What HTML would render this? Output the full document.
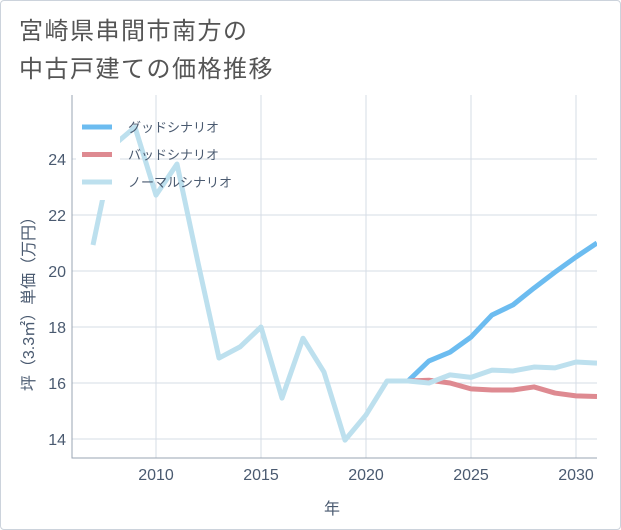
<!DOCTYPE html>
<html><head><meta charset="utf-8"><style>
body{margin:0;background:#fff;font-family:"Liberation Sans","Noto Sans CJK JP",sans-serif;}
#wrap{position:relative;width:619px;height:528px;border:1px solid #ccd3dc;border-radius:4px;overflow:hidden}
.t{position:absolute;left:18px;font-size:24px;color:#555;letter-spacing:1.5px;line-height:30px}
</style></head><body>
<div id="wrap">
<div class="t" style="top:16px">宮崎県串間市南方の</div>
<div class="t" style="top:54px">中古戸建ての価格推移</div>
<svg id="c" width="621" height="530" style="position:absolute;left:-1px;top:-1px"></svg>
</div>
<script>
const years=[2007,2008,2009,2010,2011,2012,2013,2014,2015,2016,2017,2018,2019,2020,2021,2022,2023,2024,2025,2026,2027,2028,2029,2030,2031];
const normal=[20.93,24.5,25.14,22.71,23.82,20.3,16.89,17.29,18.0,15.46,17.6,16.39,13.96,14.86,16.07,16.07,16.0,16.29,16.2,16.46,16.43,16.57,16.54,16.75,16.71];
const goodYears=[2022,2023,2024,2025,2026,2027,2028,2029,2030,2031];
const good=[16.07,16.79,17.1,17.64,18.43,18.79,19.39,19.96,20.5,21.0];
const bad=[16.07,16.1,16.0,15.79,15.75,15.75,15.86,15.64,15.54,15.52];
const xTicks=[2010,2015,2020,2025,2030];
const yTicks=[14,16,18,20,22,24];
const L=72,R=597,T=95,B=458;
const x=v=>L+(v-2006)*(R-L)/25;
const y=v=>383-(v-16)*28;
const svg=document.getElementById('c');const NS='http://www.w3.org/2000/svg';
function mk(t,a,p){const e=document.createElementNS(NS,t);for(const k in a)e.setAttribute(k,a[k]);(p||svg).appendChild(e);return e;}
const clip=mk('clipPath',{id:'pc'});mk('rect',{x:L,y:T,width:R-L,height:B-T},clip);
for(const v of yTicks){
 const g=mk('line',{x1:L,x2:R,y1:y(v),y2:y(v),stroke:'#d5dce5','stroke-width':1});
 
 
 const t=mk('text',{x:L-6,y:y(v)+6,'text-anchor':'end','font-size':16,fill:'#4a5a70'});t.textContent=v;
 
 
}
for(const v of xTicks){
 const g=mk('line',{x1:x(v),x2:x(v),y1:T,y2:B,stroke:'#d5dce5','stroke-width':1});
 
 
 const t=mk('text',{x:x(v),y:B+22,'text-anchor':'middle','font-size':16,fill:'#4a5a70'});t.textContent=v;
 
 
}
const ax=mk('path',{d:`M${L} ${T}V${B}H${R}`,fill:'none',stroke:'#9aa5b3','stroke-width':1});


function line(xs,vs,col,name){
 const p=mk('polyline',{points:xs.map((d,i)=>x(d)+','+y(vs[i])).join(' '),fill:'none',stroke:col,'stroke-width':5,'stroke-linejoin':'round','clip-path':'url(#pc)'});
 
 
}
line(goodYears,good,'#6cbcf0','good-scenario-line');
line(goodYears,bad,'#de8a91','bad-scenario-line');
line(years,normal,'#bde0ee','normal-scenario-line');
const lbg=mk('rect',{x:76,y:110,width:44,height:90,fill:'#fff'});


const leg=[['グッドシナリオ','#6cbcf0','legend-good'],['バッドシナリオ','#de8a91','legend-bad'],['ノーマルシナリオ','#bde0ee','legend-normal']];
leg.forEach((d,i)=>{
 const g=mk('g',{});
 
 
 mk('line',{x1:82,x2:112,y1:127+i*27.5,y2:127+i*27.5,stroke:d[1],'stroke-width':5},g);
 const t=mk('text',{x:128,y:132+i*27.5,'font-size':13,fill:'#4a5a70'},g);t.textContent=d[0];
});
const yt=mk('text',{transform:'translate(34,300) rotate(-90)','text-anchor':'middle','font-size':16,fill:'#4a5a70'});yt.textContent='坪（3.3㎡）単価（万円）';


const xt=mk('text',{x:332,y:514,'text-anchor':'middle','font-size':16,fill:'#4a5a70'});xt.textContent='年';


</script>
</body></html>
